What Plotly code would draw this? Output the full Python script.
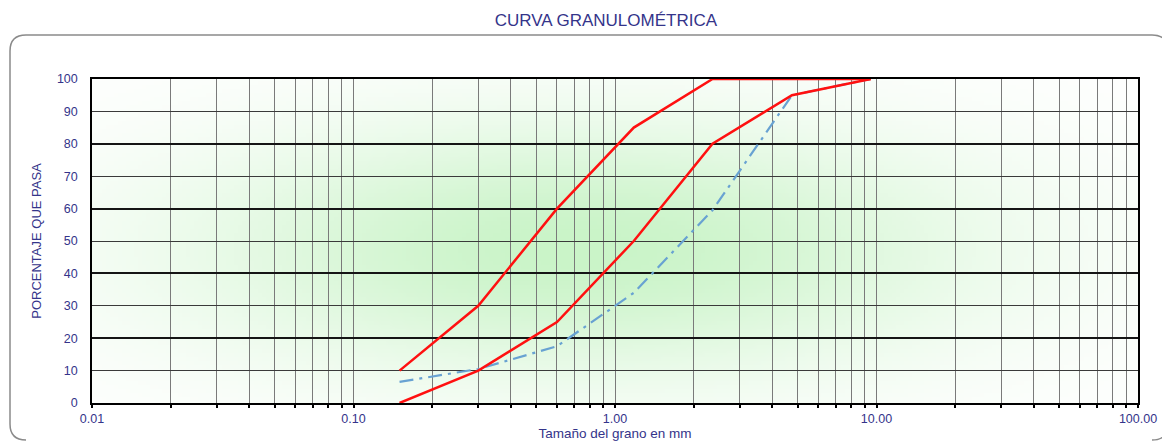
import base64, struct, zlib
import numpy as np
import plotly.graph_objects as go

# ---- data ----
sieve_mm = [0.15, 0.3, 0.6, 1.18, 2.36, 4.75, 9.5]
upper_limit = [10, 30, 60, 85, 100, 100, 100]
lower_limit = [0, 10, 25, 50, 80, 95, 100]
sample_pass = [6.5, 10.5, 17.5, 34, 59.5, 95, 100]

x_grid_vals = [m * 10.0 ** e for e in range(-2, 2) for m in range(1, 10)] + [100]
x_tick_text = ["0.01" if v == 0.01 else "0.10" if v == 0.1 else "1.00" if v == 1 else
               "10.00" if v == 10 else "100.00" if v == 100 else "" for v in x_grid_vals]
y_ticks = list(range(0, 101, 10))

NAVY = "#34348a"
FONT = "Liberation Sans, Arial, sans-serif"

# ---- background radial green gradient (decoration) ----
W, H = 262, 81
xx, yy = np.meshgrid(np.arange(W) + 0.5, np.arange(H) + 0.5)
dx = (xx * 4 - 490) / 390.0
dy = (yy * 4 - 170) / 125.0
t = np.exp(-(dx ** 2 + dy ** 2))
white = np.array([255, 255, 255], float)
green = np.array([202, 244, 200], float)
img = (white[None, None, :] * (1 - t[..., None]) + green[None, None, :] * t[..., None]).astype(np.uint8)

def png_uri(a):
    h, w, _ = a.shape
    raw = b"".join(b"\x00" + a[i].tobytes() for i in range(h))
    def chunk(tag, data):
        return struct.pack(">I", len(data)) + tag + data + struct.pack(">I", zlib.crc32(tag + data) & 0xffffffff)
    png = b"\x89PNG\r\n\x1a\n" + chunk(b"IHDR", struct.pack(">IIBBBBB", w, h, 8, 2, 0, 0, 0)) \
        + chunk(b"IDAT", zlib.compress(raw, 9)) + chunk(b"IEND", b"")
    return "data:image/png;base64," + base64.b64encode(png).decode()

fig = go.Figure()
fig.add_trace(go.Scatter(x=sieve_mm, y=sample_pass, mode="lines",
                         line=dict(color="#68a2d2", width=2.2, dash="14px,6px,3px,6px"),
                         showlegend=False))
fig.add_trace(go.Scatter(x=sieve_mm, y=upper_limit, mode="lines",
                         line=dict(color="#ff1010", width=2.5), showlegend=False))
fig.add_trace(go.Scatter(x=sieve_mm, y=lower_limit, mode="lines",
                         line=dict(color="#ff1010", width=2.5), showlegend=False))
# overlay axis for the thicker horizontal lines
fig.add_trace(go.Scatter(x=[0.01], y=[0], yaxis="y2", mode="markers",
                         marker=dict(opacity=0), showlegend=False, hoverinfo="skip"))

# the page body adds an 8px offset; margins compensate for it
fig.update_layout(
    width=1170, height=441,
    margin=dict(l=84, r=40, t=71, b=46),
    paper_bgcolor="white", plot_bgcolor="rgba(0,0,0,0)",
    font=dict(family=FONT, color=NAVY, size=12),
    title=dict(text="CURVA GRANULOMÉTRICA", x=0.511, xanchor="center", y=0.973, yanchor="middle",
               font=dict(family=FONT, size=17, color=NAVY)),
    xaxis=dict(type="log", range=[-2, 2], tickmode="array", tickvals=x_grid_vals, ticktext=x_tick_text,
               showgrid=True, gridcolor="#7a7a7a", gridwidth=1, automargin=False,
               ticks="outside", ticklen=3, tickcolor="black", tickwidth=1.5,
               showline=True, linecolor="black", linewidth=2, mirror=True,
               tickfont=dict(size=12.5, color=NAVY), zeroline=False,
               title=dict(text="Tamaño del grano en mm", standoff=1, font=dict(size=13.5, color=NAVY))),
    yaxis=dict(range=[0, 100], tickmode="array", tickvals=y_ticks, automargin=False,
               showgrid=True, gridcolor="#3a3a3a", gridwidth=1, zeroline=False,
               showline=True, linecolor="black", linewidth=1.5, mirror=True,
               ticks="", ticklabelstandoff=10, tickfont=dict(size=12.5, color=NAVY),
               title=dict(text="PORCENTAJE QUE PASA", standoff=12, font=dict(size=13, color=NAVY))),
    yaxis2=dict(range=[0, 100], overlaying="y", side="left", tickmode="linear", tick0=0, dtick=20,
                showgrid=True, gridcolor="#151515", gridwidth=2.2, showticklabels=False,
                zeroline=False, ticks="", automargin=False),
    images=[dict(source=png_uri(img), xref="paper", yref="paper", x=0, y=1, sizex=1, sizey=1,
                 sizing="stretch", layer="below", xanchor="left", yanchor="top")],
)

# rounded frame around the chart (screen pixels -> paper units; plot area 92..1138 x 79..403)
x0, x1 = (10 - 92) / 1046, (1168 - 92) / 1046
y1, y0 = (403 - 35) / 324, (403 - 440) / 324
rx, ry = 16 / 1046, 16 / 324
path = (f"M {x0+rx},{y1} L {x1-rx},{y1} Q {x1},{y1} {x1},{y1-ry} L {x1},{y0+ry} "
        f"Q {x1},{y0} {x1-rx},{y0} "
        f"M {x0+rx},{y0} Q {x0},{y0} {x0},{y0+ry} L {x0},{y1-ry} Q {x0},{y1} {x0+rx},{y1}")
fig.add_shape(type="path", path=path, xref="paper", yref="paper",
              line=dict(color="#8a8a8a", width=1.5), layer="below")

fig.write_html("out.html")
